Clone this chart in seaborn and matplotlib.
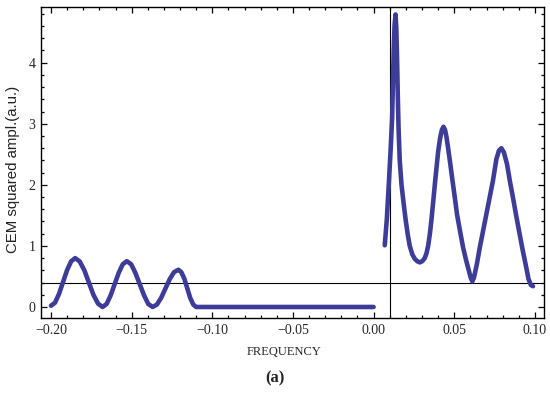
import numpy as np
import pandas as pd
import matplotlib
matplotlib.use("Agg")
import matplotlib.pyplot as plt
import seaborn as sns
from matplotlib.ticker import MultipleLocator

# Mathematica-like frame style
sns.set_style("ticks")
plt.rcParams['font.family'] = ['Liberation Serif', 'DejaVu Serif']
plt.rcParams['axes.unicode_minus'] = True

CURVE_COLOR = "#3D3D99"

# negative-frequency branch
left_freq = [-0.2000, -0.1975, -0.1950, -0.1925, -0.1900, -0.1875, -0.1850,
             -0.1822, -0.1793, -0.1765, -0.1737, -0.1708, -0.1680,
             -0.1655, -0.1630, -0.1605, -0.1580, -0.1555, -0.1530,
             -0.1503, -0.1477, -0.1450, -0.1423, -0.1397, -0.1370,
             -0.1343, -0.1317, -0.1290, -0.1263, -0.1237, -0.1210,
             -0.1192, -0.1173, -0.1155, -0.1137, -0.1118, -0.1100, 0.0000]
left_ampl = [0.02, 0.07, 0.215, 0.41, 0.605, 0.748, 0.80,
             0.746, 0.60, 0.40, 0.20, 0.054, 0.0,
             0.05, 0.19, 0.375, 0.56, 0.70, 0.75,
             0.70, 0.56, 0.375, 0.19, 0.05, 0.0,
             0.04, 0.15, 0.305, 0.46, 0.57, 0.61,
             0.57, 0.46, 0.305, 0.15, 0.04, 0.0, 0.0]

# positive-frequency branch
right_freq = [0.0069, 0.0082, 0.0094, 0.0105, 0.0115, 0.0120, 0.0125, 0.0130,
              0.0136, 0.0141, 0.0146, 0.0150, 0.0155, 0.0162, 0.0173, 0.0186,
              0.0198, 0.0212, 0.0224, 0.0240, 0.0255, 0.0270, 0.0286, 0.0302,
              0.0317, 0.0328, 0.0338, 0.0349, 0.0359, 0.0369, 0.0379, 0.0390,
              0.0400, 0.0412, 0.0423, 0.0433, 0.0443, 0.0452, 0.0462, 0.0475,
              0.0489, 0.0503, 0.0517, 0.0536, 0.0555, 0.0574, 0.0592, 0.0602,
              0.0612, 0.0622, 0.0640, 0.0658, 0.0679, 0.0699, 0.0720, 0.0740,
              0.0761, 0.0777, 0.0792, 0.0808, 0.0827, 0.0845, 0.0864, 0.0883,
              0.0902, 0.0922, 0.0943, 0.0960, 0.0975, 0.0988]
right_ampl = [1.01, 1.44, 2.00, 2.55, 3.10, 3.70, 4.25, 4.62,
              4.79, 4.55, 4.00, 3.45, 2.90, 2.40, 2.00, 1.70,
              1.44, 1.18, 1.00, 0.86, 0.79, 0.75, 0.73, 0.75,
              0.80, 0.88, 1.00, 1.20, 1.44, 1.71, 1.99, 2.28,
              2.54, 2.76, 2.90, 2.95, 2.90, 2.78, 2.60, 2.35,
              2.07, 1.80, 1.52, 1.24, 0.97, 0.76, 0.58, 0.48,
              0.42, 0.48, 0.70, 0.97, 1.25, 1.52, 1.80, 2.07,
              2.42, 2.56, 2.60, 2.53, 2.34, 2.06, 1.79, 1.51,
              1.24, 0.96, 0.69, 0.46, 0.36, 0.34]

threshold = 0.4
f_marker = 0.01

x_ticks = [-0.20, -0.15, -0.10, -0.05, 0.00, 0.05, 0.10]
x_ticklabels = ["\u22120.20", "\u22120.15", "\u22120.10", "\u22120.05", "0.00", "0.05", "0.10"]
y_ticks = [0, 1, 2, 3, 4]

fig = plt.figure(figsize=(5.5, 3.95), dpi=100)
ax = fig.add_axes([0.0745, 0.195, 0.9145, 0.787])

ax.axhline(threshold, color='black', lw=0.8, zorder=1)
ax.axvline(f_marker, color='black', lw=0.8, zorder=1)

for xs, ys in [(left_freq, left_ampl), (right_freq, right_ampl)]:
    sns.lineplot(x=xs, y=ys, ax=ax, color=CURVE_COLOR, lw=3.3, sort=False,
                 zorder=3, solid_joinstyle='round', solid_capstyle='round')

ax.set_xlim(-0.2062, 0.1056)
ax.set_ylim(-0.18, 4.91)

ax.set_xticks(x_ticks)
ax.set_xticklabels(x_ticklabels)
ax.set_yticks(y_ticks)
ax.set_yticklabels([str(v) for v in y_ticks])
ax.xaxis.set_minor_locator(MultipleLocator(0.01))
ax.yaxis.set_minor_locator(MultipleLocator(0.2))
ax.tick_params(which='both', direction='in', top=True, right=True,
               width=0.9, color='black', labelsize=10, pad=4)
ax.tick_params(which='major', length=4.5)
ax.tick_params(which='minor', length=2.5)
ax.tick_params(axis='x', labeltop=False)
ax.tick_params(axis='y', labelright=False)
for sp in ax.spines.values():
    sp.set_visible(True)
    sp.set_linewidth(1.0)
    sp.set_color('black')

ax.set_xlabel("")
ax.set_ylabel("")
fig.text(0.516, 0.109, "FREQUENCY", ha='center', va='center', fontsize=9)
fig.text(0.024, 0.572, "CEM squared ampl.(a.u.)", rotation=90, ha='center',
         va='center', fontsize=10.8, family=['Liberation Sans', 'DejaVu Sans'],
         color='#222222')
fig.text(0.5, 0.043, "(a)", ha='center', va='center', fontsize=12,
         fontweight='bold')

fig.savefig("out.png", dpi=100)
